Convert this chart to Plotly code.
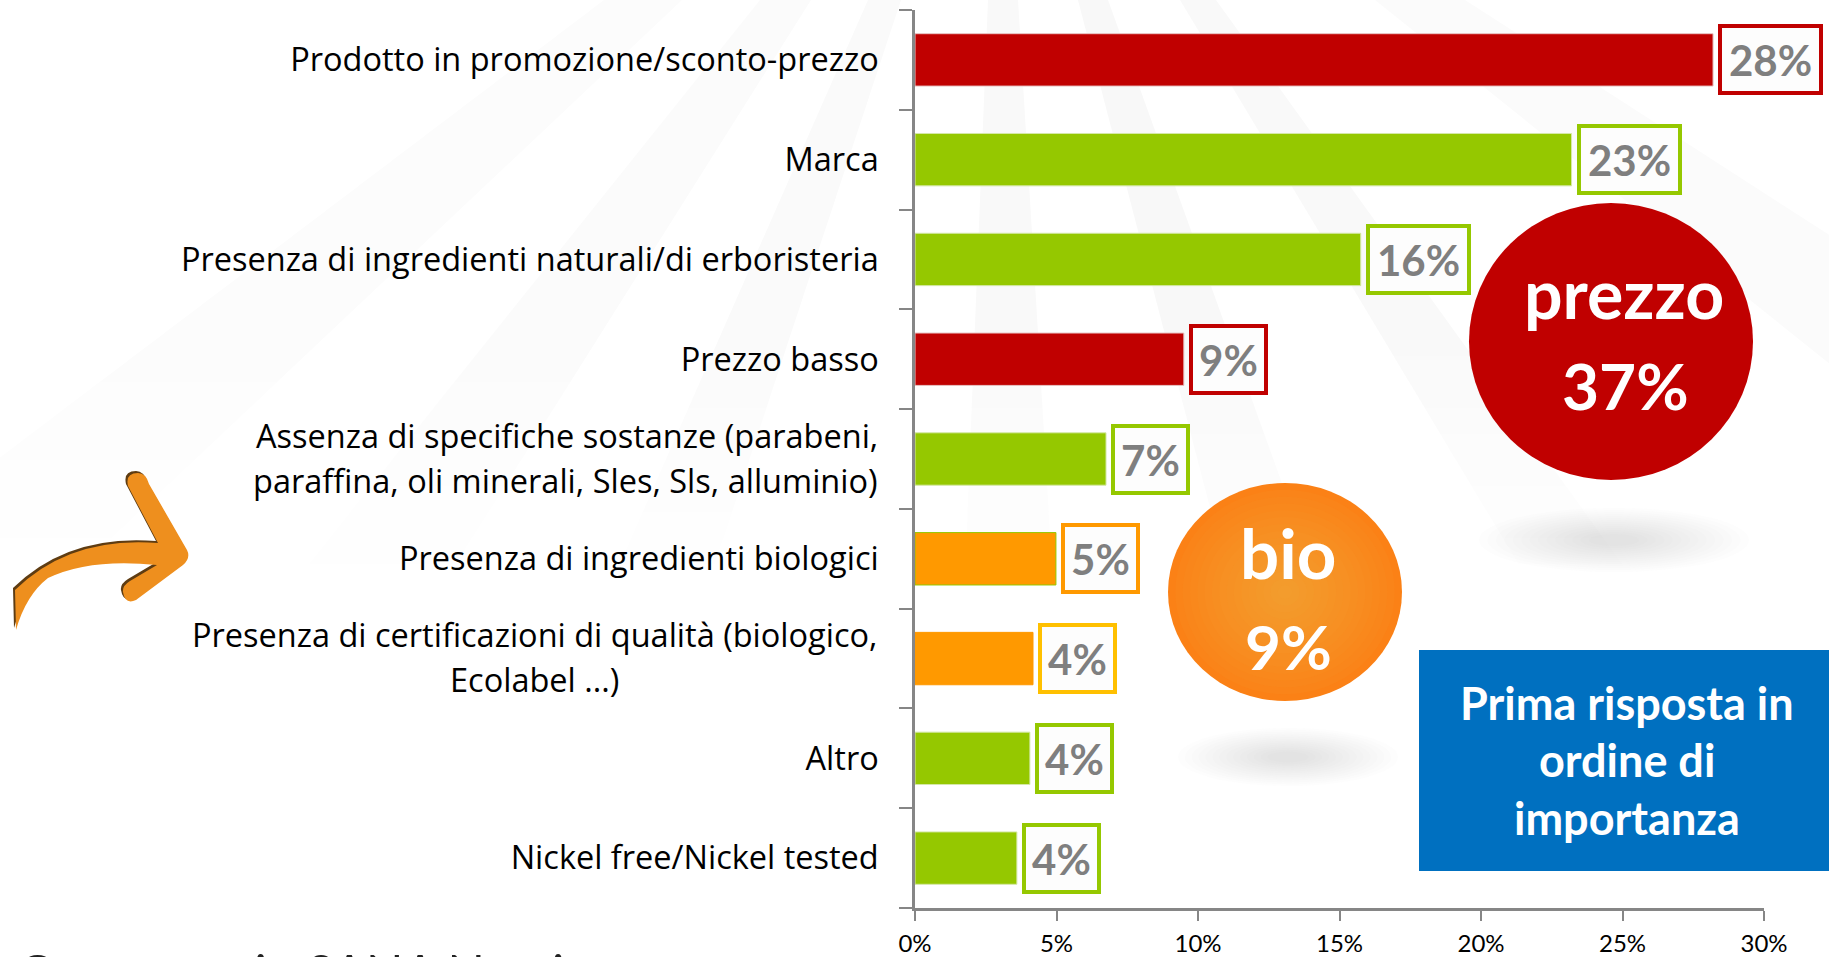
import plotly.graph_objects as go

W, H = 1829, 957
L, R, T, B = 915, 1764, 10, 908

categories = [
    "Prodotto in promozione/sconto-prezzo",
    "Marca",
    "Presenza di ingredienti naturali/di erboristeria",
    "Prezzo basso",
    "Assenza di specifiche sostanze (parabeni, paraffina, oli minerali, Sles, Sls, alluminio)",
    "Presenza di ingredienti biologici",
    "Presenza di certificazioni di qualità (biologico, Ecolabel ...)",
    "Altro",
    "Nickel free/Nickel tested",
]
values = [28.2, 23.2, 15.75, 9.5, 6.75, 4.98, 4.17, 4.06, 3.6]
value_labels = ["28%", "23%", "16%", "9%", "7%", "5%", "4%", "4%", "4%"]
bar_colors = ["#C00000", "#95C800", "#95C800", "#C00000", "#95C800", "#FF9900", "#FF9900", "#95C800", "#95C800"]
bar_lines = ["#E8C4C4", "#D5E8A8", "#D5E8A8", "#E8C4C4", "#D5E8A8", "#95C800", "#FF9900", "#D5E8A8", "#D5E8A8"]
box_colors = ["#C00000", "#95C800", "#95C800", "#C00000", "#95C800", "#FF9900", "#FFC000", "#95C800", "#95C800"]
x_ticks = [0, 5, 10, 15, 20, 25, 30]
x_tick_labels = ["0%", "5%", "10%", "15%", "20%", "25%", "30%"]
multi_line = {
    4: ["Assenza di specifiche sostanze (parabeni,", "paraffina, oli minerali, Sles, Sls, alluminio)"],
    6: ["Presenza di certificazioni di qualità (biologico,", "Ecolabel ...)"],
}
source_text = "Osservatorio SANA Nomisma"
note_lines = ["Prima risposta in", "ordine di", "importanza"]

FONT = "Lato"
LABEL_FONT = "Open Sans"
AXIS = "#868686"


def px(x):
    return (x - L) / (R - L)


def py(y):
    return (B - y) / (B - T)


def path(cmds):
    out = []
    for c in cmds:
        if isinstance(c, str):
            out.append(c)
        else:
            out.append(f"{px(c[0]):.5f},{py(c[1]):.5f}")
    return " ".join(out)


def mix(a, b, t):
    a = [int(a[i:i + 2], 16) for i in (1, 3, 5)]
    b = [int(b[i:i + 2], 16) for i in (1, 3, 5)]
    return "#" + "".join(f"{round(u + (v - u) * t):02X}" for u, v in zip(a, b))


shapes = []
ann = []


def ellipse(cx, cy, rx, ry, color, opacity=1, layer="above"):
    shapes.append(dict(type="circle", xref="paper", yref="paper", layer=layer,
                       x0=px(cx - rx), x1=px(cx + rx), y0=py(cy + ry), y1=py(cy - ry),
                       fillcolor=color, opacity=opacity, line_width=0))


# faint background rays
apex = (1000, -300)
rays = [(-1.32, -1.06, "#FCFCFC"), (-.8, -.63, "#FBFBFB"), (-.44, -.33, "#FAFAFA"), (-.04, .06, "#F9F9F9"),
        (.26, .36, "#F8F8F8"), (.6, .72, "#F9F9F9"), (1.25, 1.55, "#FBFBFB")]
ray_bottom = 640
for s1, s2, col in rays:
    h = ray_bottom - apex[1]
    shapes.append(dict(type="path", xref="paper", yref="paper", layer="below",
                       path=path(["M", apex, "L", (apex[0] + s1 * h, ray_bottom), "L",
                                  (apex[0] + s2 * h, ray_bottom), "Z"]),
                       fillcolor=col, line_width=0))
# fade the rays out downwards
for i in range(12):
    y0 = 330 + i * 26
    shapes.append(dict(type="rect", xref="paper", yref="paper", layer="below",
                       x0=px(0), x1=px(W), y0=py(y0 + 26), y1=py(y0),
                       fillcolor="white", opacity=min(1, .1 + i * .085), line_width=0))
shapes.append(dict(type="rect", xref="paper", yref="paper", layer="below",
                   x0=px(0), x1=px(W), y0=py(H), y1=py(640), fillcolor="white", line_width=0))

# blurred shadows under the circles
for (cx, cy, rx, ry) in [(1614, 540, 135, 32), (1288, 757, 110, 29)]:
    for i in range(14):
        k = 1 - i / 16
        ellipse(cx, cy, rx * k, ry * k, "#8C8C8C", .019)

# red circle
ellipse(1611, 341.5, 142, 138.5, "#C00000")
# orange circle with a soft centre
for i in range(16):
    k = 1 - i / 16
    ellipse(1285, 592, 117 * k, 109 * k, mix("#FB8116", "#F39C2D", (i / 15) ** .8))

# blue note
shapes.append(dict(type="rect", xref="paper", yref="paper", layer="above",
                   x0=px(1419), x1=px(W), y0=py(871), y1=py(650), fillcolor="#0070C0", line_width=0))

# curved arrow
arrow = ["M", (15, 590), "Q", (70, 536), (158, 543), "L", (128, 486),
         "Q", (125, 473), (138, 473), "Q", (146, 473), (149, 484),
         "L", (187, 550), "Q", (191, 558), (183, 565), "L", (136, 600),
         "Q", (125, 605), (123, 592), "Q", (122, 586), (130, 581), "L", (157, 565),
         "Q", (90, 558), (48, 578), "Q", (26, 595), (16, 630), "Z"]
shifted = []
for c in arrow:
    shifted.append(c if isinstance(c, str) else (c[0] - 2, c[1] - 2))
for p, col in [(shifted, "#5E3C12"), (arrow, "#EE8F1E")]:
    shapes.append(dict(type="path", xref="paper", yref="paper", layer="above",
                       path=path(p), fillcolor=col, line_width=0))


def text(x, y, s, size, color, bold=False, anchor="center", family=FONT):
    ann.append(dict(xref="paper", yref="paper", x=px(x), y=py(y), text=f"<b>{s}</b>" if bold else s,
                    showarrow=False, xanchor=anchor, yanchor="middle",
                    font=dict(family=family, size=size, color=color)))


# value boxes
for cat, v, lab, col in zip(categories, values, value_labels, box_colors):
    ann.append(dict(xref="x", yref="y", x=v, y=cat, xanchor="left", xshift=5, showarrow=False,
                    text=f"<b>{lab}</b>", width=97 if len(lab) == 3 else 71, height=63,
                    bgcolor="#FDFDFD", bordercolor=col, borderwidth=4, borderpad=0,
                    font=dict(family=FONT, size=42, color="#7F7F7F")))

# multi-line category labels
for idx, lines in multi_line.items():
    for j, line in enumerate(lines):
        centred = idx == 6 and j == 1
        ann.append(dict(xref="paper", yref="y", x=px(534 if centred else 880), y=categories[idx],
                        yshift=24 - 45 * j, xanchor="center" if centred else "right", yanchor="middle",
                        showarrow=False, text=line, font=dict(family=LABEL_FONT, size=32.5, color="#000000")))

text(1624, 293, "prezzo", 68, "white", True)
text(1625, 385, "37%", 64, "white", True)
text(1288, 552, "bio", 69, "white", True)
text(1288, 646, "9%", 62, "white", True)
for y, line in zip([703, 760, 818], note_lines):
    text(1627, y, line, 45, "white", True)
text(16, 971, source_text, 49, "#222222", False, "left")

fig = go.Figure(go.Bar(
    x=values, y=categories, orientation="h",
    marker=dict(color=bar_colors, line=dict(color=bar_lines, width=1)),
    hoverinfo="skip",
))
fig.update_layout(
    width=W, height=H, margin=dict(l=L, r=W - R, t=T, b=H - B, pad=0, autoexpand=False),
    paper_bgcolor="white", plot_bgcolor="rgba(0,0,0,0)", showlegend=False,
    bargap=.475, shapes=shapes, annotations=ann,
    font=dict(family=FONT),
    xaxis=dict(range=[0, 30], tickmode="array", tickvals=x_ticks, ticktext=x_tick_labels, showgrid=False,
               zeroline=False, showline=True, linecolor=AXIS, linewidth=2.5, ticks="outside",
               ticklen=10, tickwidth=2, tickcolor=AXIS, ticklabelstandoff=2,
               tickfont=dict(family=FONT, size=24, color="#000000")),
    yaxis=dict(type="category", categoryorder="array", categoryarray=categories, autorange="reversed",
               tickmode="array", tickvals=categories,
               ticktext=["" if i in multi_line else c for i, c in enumerate(categories)],
               tickson="boundaries", showgrid=False, zeroline=False, showline=True, linecolor=AXIS,
               linewidth=2.5, ticks="outside", ticklen=13, tickwidth=2, tickcolor=AXIS,
               ticklabelstandoff=27, tickfont=dict(family=LABEL_FONT, size=32.5, color="#000000")),
)
fig.write_html("out.html", config=dict(displayModeBar=False),
               post_script="document.body.style.margin='0';document.body.style.overflow='hidden';")
